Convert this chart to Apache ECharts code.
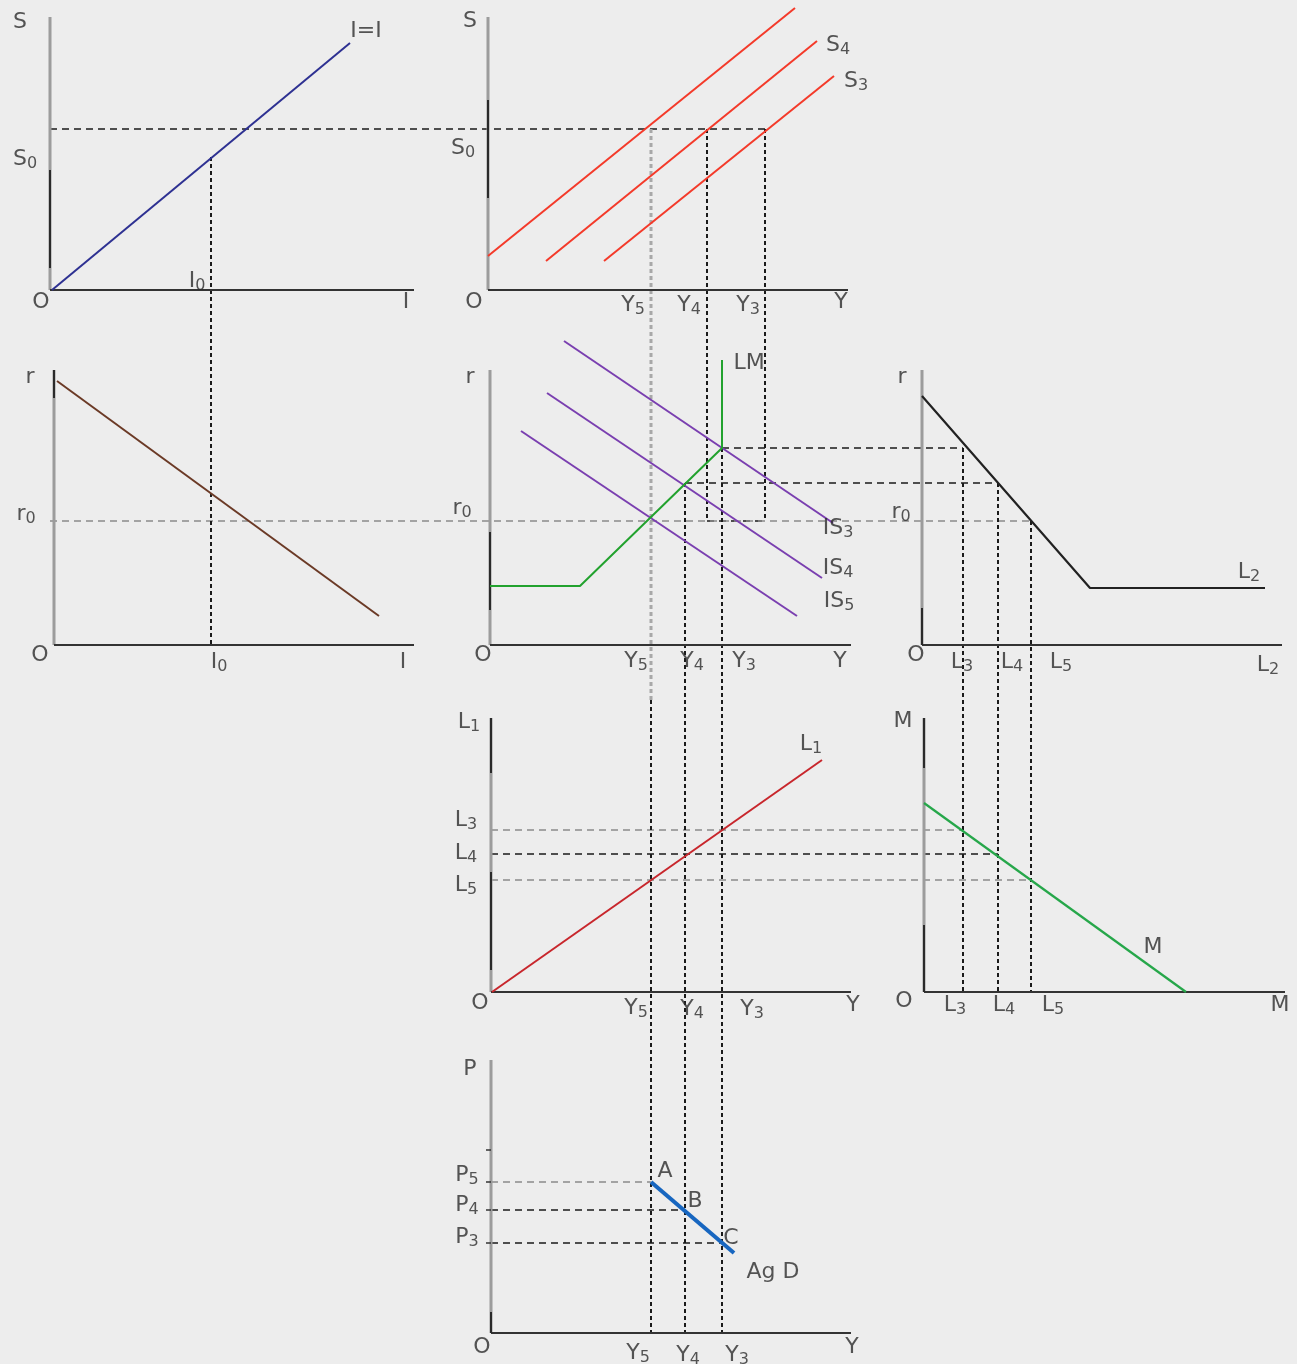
<!DOCTYPE html>
<html>
<head>
<meta charset="utf-8">
<title>IS-LM derivation of aggregate demand</title>
<script src="https://cdn.jsdelivr.net/npm/echarts@6/dist/echarts.min.js"></script>
<style>
  html, body { margin: 0; padding: 0; background: #ededed; }
  #chart { width: 1297px; height: 1364px; }
</style>
</head>
<body>
<div id="chart"></div>
<script>
// every point is in diagram units (x to the right, y downward), 1297 x 1364

// panel axes: [originX, originY, topY, rightX]
const panelAxes = [
  [50, 290, 17, 414],     // S - I
  [488, 290, 17, 848],    // S - Y
  [54, 645, 370, 414],    // r - I
  [490, 645, 370, 851],   // r - Y (IS-LM)
  [922, 645, 370, 1282],  // r - L2
  [491, 992, 718, 851],   // L1 - Y
  [924, 992, 718, 1285],  // M - L
  [491, 1333, 1060, 851]  // P - Y
];
// darker stretches on the (mostly grey) vertical axes: [x, fromY, toY]
const axisDark = [
  [50, 170, 268], [488, 100, 198], [54, 370, 398], [490, 532, 610],
  [922, 608, 645], [491, 718, 773], [491, 872, 970], [924, 718, 768],
  [924, 925, 992], [491, 1312, 1333]
];

// curves
const savingII = [[52, 290], [350, 43]];
const savingTop = [[488, 256], [795, 8]];
const savingS4 = [[546, 261], [817, 41]];
const savingS3 = [[604, 261], [834, 76]];
const investR = [[57, 381], [379, 616]];
const curveIS3 = [[564, 341], [833, 523]];
const curveIS4 = [[547, 393], [822, 578]];
const curveIS5 = [[521, 431], [797, 616]];
const curveLM = [[490, 586], [580, 586], [722, 448], [722, 360]];
const curveL2 = [[922, 396], [1090, 588], [1265, 588]];
const curveL1 = [[492, 992], [822, 760]];
const curveM = [[924, 803], [1186, 992]];
const curveAgD = [[651, 1182], [734, 1253]];

// guide lines
const guideDark = [
  [[50, 129], [765, 129]],
  [[722, 448], [963, 448]],
  [[685, 483], [998, 483]],
  [[707, 521], [765, 521]],
  [[491, 854], [998, 854]],
  [[491, 1210], [685, 1210]],
  [[491, 1243], [722, 1243]]
];
const guideGrey = [
  [[50, 521], [1031, 521]],
  [[491, 830], [963, 830]],
  [[491, 880], [1031, 880]],
  [[491, 1182], [651, 1182]]
];
const dropDark = [
  [[211, 157], [211, 645]],
  [[707, 129], [707, 521]],
  [[765, 129], [765, 521]],
  [[685, 483], [685, 1333]],
  [[722, 448], [722, 1333]],
  [[963, 448], [963, 992]],
  [[998, 483], [998, 992]],
  [[1031, 521], [1031, 992]],
  [[651, 700], [651, 1333]]
];
const dropGrey = [
  [[651, 129], [651, 700]]
];
const priceTicks = [
  [[486, 1150], [491, 1150]],
  [[486, 1182], [491, 1182]],
  [[486, 1210], [491, 1210]],
  [[486, 1243], [491, 1243]]
];

// text: [label, x, y]; "_n" is a subscript
const labels = [
  ["S", 20, 22], ["S_0", 25, 159], ["O", 41, 302], ["I_0", 197, 281], ["I", 406, 302], ["I=I", 366, 31],
  ["S", 470, 21], ["S_0", 463, 148], ["O", 474, 302], ["Y_5", 633, 305], ["Y_4", 689, 305],
  ["Y_3", 748, 305], ["Y", 841, 302], ["S_4", 838, 45], ["S_3", 856, 81],
  ["r", 30, 377], ["r_0", 26, 514], ["O", 40, 655], ["I_0", 219, 662], ["I", 403, 662],
  ["r", 470, 377], ["r_0", 462, 508], ["O", 483, 655], ["Y_5", 636, 661], ["Y_4", 692, 661],
  ["Y_3", 744, 661], ["Y", 840, 661], ["LM", 749, 363], ["IS_3", 838, 528], ["IS_4", 838, 568],
  ["IS_5", 839, 601],
  ["r", 902, 377], ["r_0", 901, 512], ["O", 916, 655], ["L_3", 962, 662], ["L_4", 1012, 662],
  ["L_5", 1061, 662], ["L_2", 1268, 665], ["L_2", 1249, 572],
  ["L_1", 469, 722], ["L_1", 811, 744], ["L_3", 466, 820], ["L_4", 466, 853], ["L_5", 466, 885],
  ["O", 480, 1003], ["Y_5", 636, 1008], ["Y_4", 692, 1009], ["Y_3", 752, 1009], ["Y", 853, 1005],
  ["M", 903, 721], ["M", 1153, 947], ["O", 904, 1001], ["L_3", 955, 1005], ["L_4", 1004, 1005],
  ["L_5", 1053, 1005], ["M", 1280, 1005],
  ["P", 470, 1069], ["P_5", 467, 1175], ["P_4", 467, 1205], ["P_3", 467, 1237], ["A", 665, 1171],
  ["B", 695, 1201], ["C", 731, 1238], ["Ag D", 773, 1272], ["O", 482, 1347], ["Y_5", 638, 1353],
  ["Y_4", 688, 1355], ["Y_3", 737, 1355], ["Y", 852, 1347]
];

function line(data, color, width, type) {
  return {
    type: "line",
    data: data,
    showSymbol: false,
    silent: true,
    z: type === "solid" ? 3 : 2,
    lineStyle: { color: color, width: width, type: type, cap: "butt" }
  };
}

let series = [];
panelAxes.forEach(function (a) {
  series.push(line([[a[0], a[2]], [a[0], a[1]]], "#9c9c9c", 3, "solid"));
  series.push(line([[a[0], a[1]], [a[3], a[1]]], "#333333", 2, "solid"));
});
axisDark.forEach(function (d) {
  series.push(line([[d[0], d[1]], [d[0], d[2]]], "#2a2a2a", 2, "solid"));
});
priceTicks.forEach(function (t) {
  series.push(line(t, "#333333", 1.5, "solid"));
});
guideDark.forEach(function (g) {
  series.push(line(g, "#1a1a1a", 1.4, [7, 5]));
});
guideGrey.forEach(function (g) {
  series.push(line(g, "#8a8a8a", 1.6, [7, 5]));
});
dropDark.forEach(function (g) {
  series.push(line(g, "#1a1a1a", 2, [4, 3]));
});
dropGrey.forEach(function (g) {
  series.push(line(g, "#a8a8a8", 3, [4, 3]));
});

series.push(line(savingII, "#2e3192", 2, "solid"));
series.push(line(savingTop, "#f43a2a", 2, "solid"));
series.push(line(savingS4, "#f43a2a", 2, "solid"));
series.push(line(savingS3, "#f43a2a", 2, "solid"));
series.push(line(investR, "#6b3a26", 2, "solid"));
series.push(line(curveIS3, "#7a3fb0", 2, "solid"));
series.push(line(curveIS4, "#7a3fb0", 2, "solid"));
series.push(line(curveIS5, "#7a3fb0", 2, "solid"));
series.push(line(curveLM, "#22a22e", 2, "solid"));
series.push(line(curveL2, "#222222", 2.2, "solid"));
series.push(line(curveL1, "#c8262c", 2, "solid"));
series.push(line(curveM, "#26a74a", 2.2, "solid"));
series.push(line(curveAgD, "#1766c0", 4, "solid"));

series.push({
  type: "scatter",
  symbolSize: 0,
  silent: true,
  z: 5,
  data: labels.map(function (l) { return { value: [l[1], l[2]], name: l[0] }; }),
  label: {
    show: true,
    position: "inside",
    formatter: function (p) {
      let parts = p.name.split("_");
      let txt = "{m|" + parts[0] + "}";
      if (parts[1]) txt += "{s|" + parts[1] + "}";
      return txt;
    },
    align: "center",
    verticalAlign: "middle",
    rich: {
      m: { fontFamily: "DejaVu Sans", fontSize: 22, lineHeight: 25, color: "#2c2c2c", verticalAlign: "middle" },
      s: { fontFamily: "DejaVu Sans", fontSize: 16, lineHeight: 16, color: "#2c2c2c", verticalAlign: "bottom" }
    }
  }
});

const chart = echarts.init(document.getElementById("chart"));
chart.setOption({
  backgroundColor: "#ededed",
  animation: false,
  grid: { left: 0, right: 0, top: 0, bottom: 0 },
  xAxis: { type: "value", min: 0, max: 1297, show: false },
  yAxis: { type: "value", min: 0, max: 1364, inverse: true, show: false },
  series: series
});
</script>
</body>
</html>
